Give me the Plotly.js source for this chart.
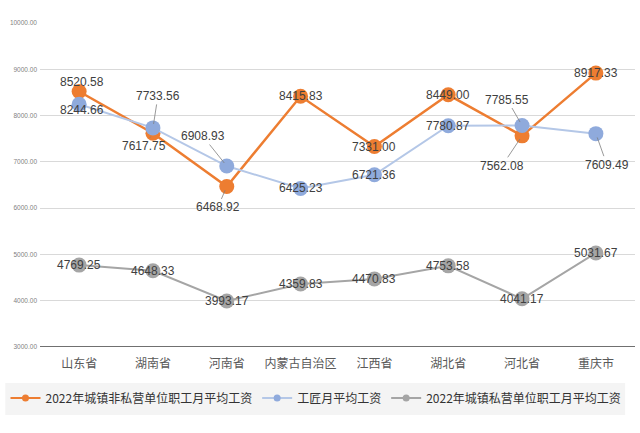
<!DOCTYPE html>
<html>
<head>
<meta charset="utf-8">
<script src="https://cdn.plot.ly/plotly-3.0.1.min.js"></script>
<style>html,body{margin:0;padding:0;background:#fff;}#chart{width:640px;height:433px;}</style>
</head>
<body>
<div id="chart"></div>
<script>
const categories = ['山东省','湖南省','河南省','内蒙古自治区','江西省','湖北省','河北省','重庆市'];
const nonPrivateWage = [8520.58, 7617.75, 6468.92, 8415.83, 7331.00, 8449.00, 7562.08, 8917.33];
const craftsmanWage = [8244.66, 7733.56, 6908.93, 6425.23, 6721.36, 7780.87, 7785.55, 7609.49];
const privateWage = [4769.25, 4648.33, 3993.17, 4359.83, 4470.83, 4753.58, 4041.17, 5031.67];
const seriesNames = ['2022年城镇非私营单位职工月平均工资','工匠月平均工资','2022年城镇私营单位职工月平均工资'];
const yTicks = [3000, 4000, 5000, 6000, 7000, 8000, 9000, 10000];

// label offsets in pixels (text centre relative to point)
const orangeOff = [[3,-9],[-9,13],[-9,21],[0,0],[0,0],[0,0],[-20,30],[0,0]];
const blueOff = [[3,6],[5,-32],[-24,-30],[0,0],[0,0],[0,0],[-15,-26],[11,31]];
const grayOff = [[0,0],[0,0],[0,0],[0,0],[0,0],[0,0],[0,0],[0,0]];

const ORANGE = '#ED7D31', BLUE = '#8FAADC', BLUELINE = '#B4C7E7', GRAY = '#A5A5A5';

function mk(vals, name, lineColor, markerColor, width) {
  return {
    x: categories, y: vals, name: name, type: 'scatter', mode: 'lines+markers',
    line: {color: lineColor, width: width},
    marker: {color: markerColor, size: 15, line: {width: 0}},
    showlegend: false, hoverinfo: 'skip', cliponaxis: false
  };
}
function legendTrace(name, lineColor, markerColor) {
  return {
    x: [null], y: [null], name: name, type: 'scatter', mode: 'lines+markers',
    line: {color: lineColor, width: 2}, marker: {color: markerColor, size: 7},
    showlegend: true, hoverinfo: 'skip'
  };
}

const data = [
  mk(privateWage, seriesNames[2], GRAY, GRAY, 2),
  mk(nonPrivateWage, seriesNames[0], ORANGE, ORANGE, 2.5),
  mk(craftsmanWage, seriesNames[1], BLUELINE, BLUE, 2),
  legendTrace(seriesNames[0], ORANGE, ORANGE),
  legendTrace(seriesNames[1], BLUELINE, BLUE),
  legendTrace(seriesNames[2], GRAY, GRAY)
];

const annotations = [];
function addLabels(vals, offs) {
  vals.forEach((v, i) => {
    const o = offs[i];
    const far = Math.abs(o[0]) + Math.abs(o[1]) > 14;
    const a = {
      x: categories[i], y: v, xref: 'x', yref: 'y', text: v.toFixed(2),
      font: {family: 'Liberation Sans, Arial, sans-serif', size: 12, color: '#404040'}
    };
    if (far) {
      Object.assign(a, {showarrow: true, ax: o[0], ay: o[1], arrowhead: 0, arrowwidth: 0.8,
        arrowcolor: '#7F7F7F', standoff: 4, startstandoff: 0});
    } else {
      Object.assign(a, {showarrow: false, xshift: o[0], yshift: -o[1]});
    }
    annotations.push(a);
  });
}
addLabels(privateWage, grayOff);
addLabels(nonPrivateWage, orangeOff);
addLabels(craftsmanWage, blueOff);

const layout = {
  width: 640, height: 433,
  margin: {l: 35, r: 5, t: 23, b: 86},
  paper_bgcolor: '#fff', plot_bgcolor: '#fff',
  xaxis: {
    type: 'category', showgrid: false, zeroline: false,
    showline: false,
    ticks: 'outside', ticklen: 6, tickcolor: 'rgba(0,0,0,0)',
    tickfont: {family: 'Noto Sans CJK SC', size: 12, color: '#595959'},
    fixedrange: true
  },
  yaxis: {
    range: [3000, 10000], tickvals: yTicks, tickformat: '.2f',
    showgrid: true, gridcolor: '#D9D9D9', gridwidth: 1, zeroline: false, showline: false,
    tickfont: {family: 'Liberation Sans, Arial, sans-serif', size: 6.5, color: '#7F7F7F'},
    ticks: '', ticklabelstandoff: 2, fixedrange: true
  },
  shapes: [{
    type: 'rect', xref: 'paper', yref: 'paper', layer: 'below',
    x0: -35/600, x1: 590/600, y0: -68/324, y1: -36/324,
    fillcolor: '#F4F4F4', line: {width: 0}
  }, {
    type: 'line', xref: 'paper', yref: 'y', layer: 'above',
    x0: 0, x1: 1, y0: yTicks[0], y1: yTicks[0],
    line: {color: '#404040', width: 1.5}
  }],
  legend: {
    orientation: 'h', x: -0.058, xanchor: 'left', y: -0.113, yanchor: 'top',
    bgcolor: 'rgba(0,0,0,0)', itemwidth: 30,
    font: {family: 'Noto Sans CJK SC', size: 12, color: '#333333'},
    traceorder: 'normal'
  },
  annotations: annotations,
  showlegend: true
};

Plotly.newPlot('chart', data, layout, {displayModeBar: false, staticPlot: true});
</script>
</body>
</html>
